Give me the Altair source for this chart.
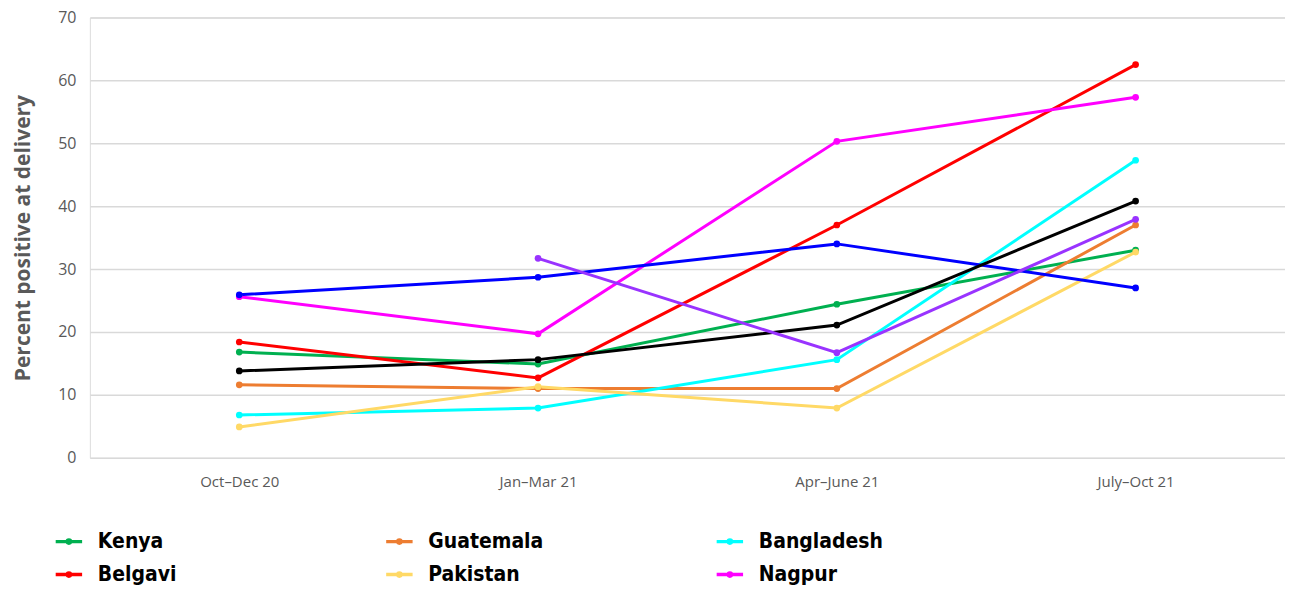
import altair as alt
import pandas as pd

quarters = ["Oct–Dec 20", "Jan–Mar 21", "Apr–June 21", "July–Oct 21"]

series_names = ["Kenya", "Guatemala", "Bangladesh", "Belgavi", "Pakistan", "Nagpur",
                "Series 7", "Series 8", "Series 9"]
legend_names = ["Kenya", "Guatemala", "Bangladesh", "Belgavi", "Pakistan", "Nagpur"]
colors = ["#00b050", "#ed7d31", "#00ffff", "#ff0000", "#ffd966", "#ff00ff",
          "#0000ff", "#000000", "#9933ff"]

kenya = [16.8, 14.9, 24.4, 33.0]
guatemala = [11.6, 11.0, 11.0, 37.0]
bangladesh = [6.8, 7.9, 15.6, 47.3]
belgavi = [18.4, 12.7, 37.0, 62.5]
pakistan = [4.9, 11.3, 7.9, 32.7]
nagpur = [25.6, 19.7, 50.3, 57.3]
series7 = [25.9, 28.7, 34.0, 27.0]
series8 = [13.8, 15.6, 21.1, 40.8]
series9 = [None, 31.7, 16.7, 37.9]

all_values = [kenya, guatemala, bangladesh, belgavi, pakistan, nagpur, series7, series8, series9]

rows = []
for name, vals in zip(series_names, all_values):
    for q, v in zip(quarters, vals):
        if v is not None:
            rows.append({"site": name, "quarter": q, "value": v})
df = pd.DataFrame(rows)

color_scale = alt.Scale(domain=series_names, range=colors)

legend_symbol = ("M-1,0L1,0M-0.12,0a0.12,0.12 0 1,0 0.24,0a0.12,0.12 0 1,0 -0.24,0")

base = alt.Chart(df).encode(
    x=alt.X("quarter:O", sort=quarters, scale=alt.Scale(padding=0.5),
            axis=alt.Axis(title=None, labelAngle=0, labelFont="Open Sans", labelFontSize=15,
                          labelColor="#595959", ticks=False, domain=False, labelPadding=17)),
    y=alt.Y("value:Q", scale=alt.Scale(domain=[0, 70]),
            axis=alt.Axis(title="Percent positive at delivery", values=[0, 10, 20, 30, 40, 50, 60, 70],
                          titleFont="Open Sans", titleFontSize=21, titleFontWeight="bold",
                          titleColor="#595959", labelFont="Open Sans", labelFontSize=16,
                          labelColor="#595959", ticks=False, domain=False, labelPadding=14,
                          gridColor="#d9d9d9", gridWidth=1.5, titlePadding=24)),
    color=alt.Color("site:N", scale=color_scale,
                    legend=alt.Legend(values=legend_names, title=None, orient="none",
                                      legendX=-36, legendY=510, direction="horizontal",
                                      columns=3, symbolType=legend_symbol, symbolStrokeWidth=3.5,
                                      symbolSize=700,
                                      labelFont="DejaVu Sans Condensed, Roboto, sans-serif",
                                      labelFontSize=21, labelFontWeight="bold",
                                      labelColor="#000000", columnPadding=156,
                                      rowPadding=8, labelOffset=14, gridAlign="all")),
    detail="site:N",
)

lines = base.mark_line(strokeWidth=3)
points = base.mark_circle(size=45, opacity=1)

chart = (lines + points).properties(
    width=1197, height=441,
    autosize=alt.AutoSizeParams(type="none"),
    padding={"left": 82, "top": 9, "right": 0, "bottom": 135},
).configure_view(stroke=None).configure(background="white")

chart.save("out.html", embed_options={"renderer": "svg", "actions": False})
